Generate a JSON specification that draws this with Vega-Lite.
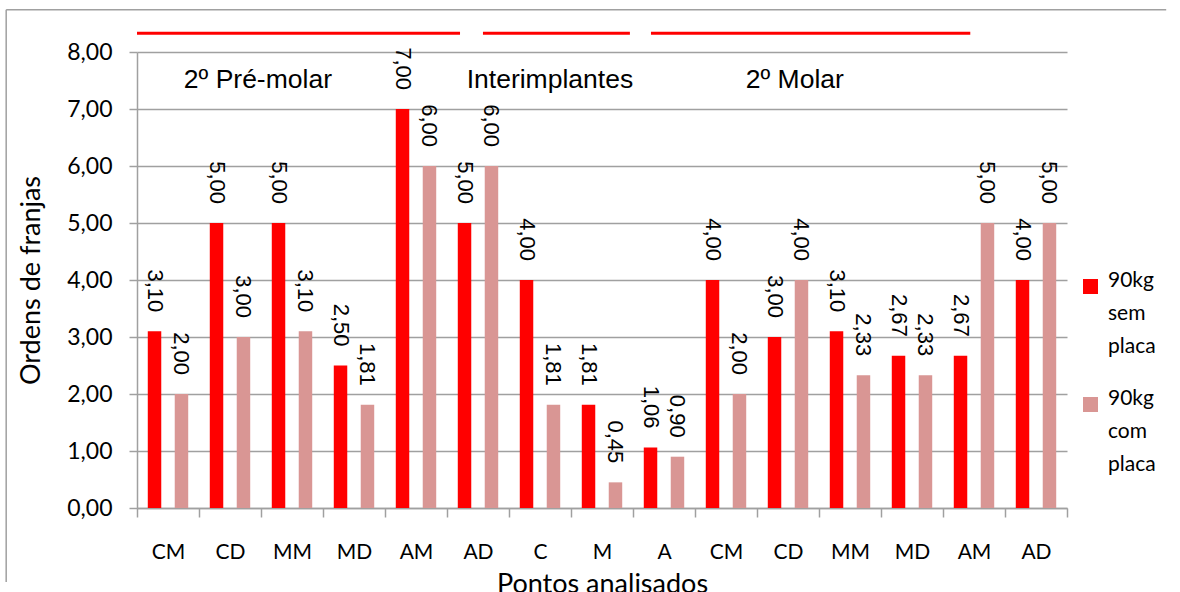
{
  "$schema": "https://vega.github.io/schema/vega-lite/v6.json",
  "width": 930,
  "height": 456,
  "autosize": {"type": "none"},
  "padding": {"left": 137, "top": 52, "right": 113, "bottom": 84},
  "background": "white",
  "config": {
    "locale": {"number": {"decimal": ",", "thousands": ".", "grouping": [3], "currency": ["R$", ""]}},
    "view": {"stroke": null},
    "style": {"guide-label": {"lineHeight": 33}}
  },
  "datasets": {
    "medidas": [
      {"ponto": "CM|1", "serie": "90kg sem placa", "valor": 3.10},
      {"ponto": "CM|1", "serie": "90kg com placa", "valor": 2.00},
      {"ponto": "CD|2", "serie": "90kg sem placa", "valor": 5.00},
      {"ponto": "CD|2", "serie": "90kg com placa", "valor": 3.00},
      {"ponto": "MM|3", "serie": "90kg sem placa", "valor": 5.00},
      {"ponto": "MM|3", "serie": "90kg com placa", "valor": 3.10},
      {"ponto": "MD|4", "serie": "90kg sem placa", "valor": 2.50},
      {"ponto": "MD|4", "serie": "90kg com placa", "valor": 1.81},
      {"ponto": "AM|5", "serie": "90kg sem placa", "valor": 7.00},
      {"ponto": "AM|5", "serie": "90kg com placa", "valor": 6.00},
      {"ponto": "AD|6", "serie": "90kg sem placa", "valor": 5.00},
      {"ponto": "AD|6", "serie": "90kg com placa", "valor": 6.00},
      {"ponto": "C|7", "serie": "90kg sem placa", "valor": 4.00},
      {"ponto": "C|7", "serie": "90kg com placa", "valor": 1.81},
      {"ponto": "M|8", "serie": "90kg sem placa", "valor": 1.81},
      {"ponto": "M|8", "serie": "90kg com placa", "valor": 0.45},
      {"ponto": "A|9", "serie": "90kg sem placa", "valor": 1.06},
      {"ponto": "A|9", "serie": "90kg com placa", "valor": 0.90},
      {"ponto": "CM|10", "serie": "90kg sem placa", "valor": 4.00},
      {"ponto": "CM|10", "serie": "90kg com placa", "valor": 2.00},
      {"ponto": "CD|11", "serie": "90kg sem placa", "valor": 3.00},
      {"ponto": "CD|11", "serie": "90kg com placa", "valor": 4.00},
      {"ponto": "MM|12", "serie": "90kg sem placa", "valor": 3.10},
      {"ponto": "MM|12", "serie": "90kg com placa", "valor": 2.33},
      {"ponto": "MD|13", "serie": "90kg sem placa", "valor": 2.67},
      {"ponto": "MD|13", "serie": "90kg com placa", "valor": 2.33},
      {"ponto": "AM|14", "serie": "90kg sem placa", "valor": 2.67},
      {"ponto": "AM|14", "serie": "90kg com placa", "valor": 5.00},
      {"ponto": "AD|15", "serie": "90kg sem placa", "valor": 4.00},
      {"ponto": "AD|15", "serie": "90kg com placa", "valor": 5.00}
    ],
    "regioes": [
      {"regiao": "2º Pré-molar", "inicio": 0.0, "fim": 5.21, "centro": 1.95},
      {"regiao": "Interimplantes", "inicio": 5.58, "fim": 7.95, "centro": 6.66},
      {"regiao": "2º Molar", "inicio": 8.29, "fim": 13.44, "centro": 10.61}
    ]
  },
  "layer": [
    {
      "data": {"name": "medidas"},
      "encoding": {
        "x": {
          "field": "ponto", "type": "nominal", "sort": null,
          "scale": {"paddingInner": 0, "paddingOuter": 0},
          "axis": {
            "title": "Pontos analisados",
            "labelExpr": "split(datum.label, '|')[0]",
            "labelAngle": 0,
            "labelFont": "Lato", "labelFontSize": 21, "labelColor": "#000000",
            "labelPadding": 24,
            "tickBand": "extent", "tickSize": 9, "tickColor": "#a0a0a0", "tickWidth": 1.5,
            "domainColor": "#a0a0a0", "domainWidth": 1.5,
            "titleFont": "Lato", "titleFontSize": 27, "titleFontWeight": "normal", "titleColor": "#000000",
            "titlePadding": 9
          }
        },
        "xOffset": {
          "field": "serie", "type": "nominal",
          "sort": ["90kg sem placa", "90kg com placa"],
          "scale": {"paddingInner": 0.5, "paddingOuter": 0.4}
        },
        "y": {
          "field": "valor", "type": "quantitative",
          "scale": {"domain": [0, 8], "nice": false},
          "axis": {
            "title": "Ordens de franjas",
            "values": [0, 1, 2, 3, 4, 5, 6, 7, 8],
            "format": ".2f",
            "labelFont": "Lato", "labelFontSize": 23, "labelColor": "#000000",
            "labelPadding": 17,
            "tickSize": 8, "tickColor": "#a0a0a0", "tickWidth": 1.5,
            "domainColor": "#a0a0a0", "domainWidth": 1.5,
            "gridColor": "#a0a0a0", "gridWidth": 1.5,
            "titleFont": "Lato", "titleFontSize": 27, "titleFontWeight": "normal", "titleColor": "#000000",
            "titlePadding": 21
          }
        },
        "color": {
          "field": "serie", "type": "nominal",
          "scale": {"domain": ["90kg sem placa", "90kg com placa"], "range": ["#ff0000", "#d99694"]},
          "legend": {
            "title": null,
            "orient": "none", "legendX": 943, "legendY": 224,
            "symbolType": "square", "symbolSize": 225, "symbolStrokeWidth": 0, "symbolOpacity": 1,
            "labelExpr": "split(datum.label, ' ')",
            "labelFont": "Lato", "labelFontSize": 21, "labelColor": "#000000",
            "labelBaseline": "alphabetic", "labelOffset": 7, "labelLimit": 200,
            "rowPadding": 30, "padding": 0
          }
        }
      },
      "layer": [
        {"mark": {"type": "bar"}},
        {
          "mark": {
            "type": "text", "angle": 90, "align": "right", "baseline": "middle",
            "dx": -19, "font": "Liberation Sans", "fontSize": 22, "color": "#000000"
          },
          "encoding": {
            "text": {"field": "valor", "type": "quantitative", "format": ".2f"},
            "color": {"value": "#000000"}
          }
        }
      ]
    },
    {
      "data": {"name": "regioes"},
      "encoding": {
        "x": {"field": "inicio", "type": "quantitative", "scale": {"domain": [0, 15], "nice": false, "zero": false}, "axis": null}
      },
      "layer": [
        {
          "mark": {"type": "rule", "color": "#ff0000", "strokeWidth": 3},
          "encoding": {
            "x2": {"field": "fim"},
            "y": {"datum": 8.33, "type": "quantitative", "scale": {"domain": [0, 8], "nice": false}, "axis": null}
          }
        },
        {
          "mark": {"type": "text", "font": "Liberation Sans", "fontSize": 26.5, "color": "#000000", "align": "center", "baseline": "middle"},
          "encoding": {
            "x": {"field": "centro", "type": "quantitative", "scale": {"domain": [0, 15], "nice": false, "zero": false}, "axis": null},
            "y": {"datum": 7.51, "type": "quantitative", "scale": {"domain": [0, 8], "nice": false}, "axis": null},
            "text": {"field": "regiao"}
          }
        }
      ]
    },
    {
      "data": {"values": [{"borda": "esquerda"}]},
      "mark": {"type": "rule", "color": "#a0a0a0", "strokeWidth": 1.5},
      "encoding": {
        "x": {"datum": -2.11, "type": "quantitative", "scale": {"domain": [0, 15], "nice": false, "zero": false}, "axis": null},
        "y": {"datum": 8.74, "type": "quantitative", "scale": {"domain": [0, 8], "nice": false}, "axis": null},
        "y2": {"datum": -1.3}
      }
    },
    {
      "data": {"values": [{"borda": "topo"}]},
      "mark": {"type": "rule", "color": "#a0a0a0", "strokeWidth": 1.5},
      "encoding": {
        "x": {"datum": -2.11, "type": "quantitative", "scale": {"domain": [0, 15], "nice": false, "zero": false}, "axis": null},
        "x2": {"datum": 16.6},
        "y": {"datum": 8.74, "type": "quantitative", "scale": {"domain": [0, 8], "nice": false}, "axis": null}
      }
    }
  ],
  "resolve": {"scale": {"x": "independent", "y": "independent"}}
}
